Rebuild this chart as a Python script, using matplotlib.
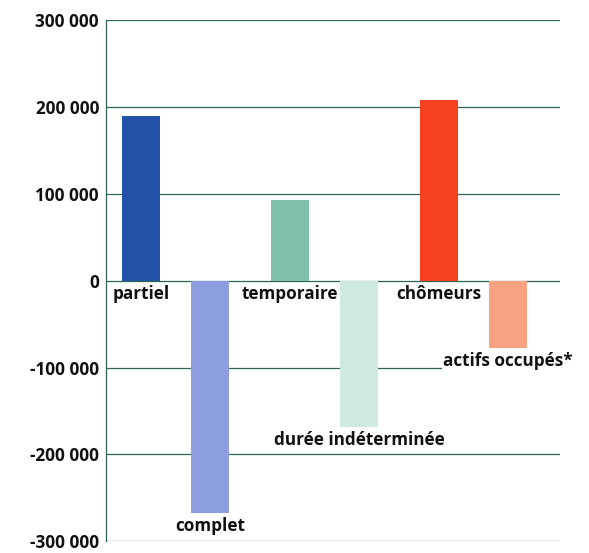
import matplotlib
matplotlib.use("Agg")
import matplotlib.pyplot as plt
from matplotlib.ticker import FuncFormatter

# variation by category, grouped in pairs
labels = ["partiel", "complet", "temporaire", "durée indéterminée", "chômeurs", "actifs occupés*"]
values = [190000, -267000, 93000, -168000, 208000, -77000]
colors = ["#2352a8", "#8c9de0", "#7fc0a9", "#cde9e2", "#f5411e", "#f9a282"]
yticks = [-300000, -200000, -100000, 0, 100000, 200000, 300000]

grid_color = "#2f6454"
font = "Open Sans"
fsize = 12.3

# two bars per group: left and right of the group centre
group = [i // 2 for i in range(len(values))]
side = [-1 if i % 2 == 0 else 1 for i in range(len(values))]
xpos = [g + s * 0.232 for g, s in zip(group, side)]

fig = plt.figure(figsize=(5.89, 5.53), dpi=100)
ax = fig.add_axes([0.18, 0.021, 0.771, 0.9428])

ax.set_ylim(-300000, 300000)
ax.set_xlim(-0.466, 2.58)
ax.set_yticks(yticks)
ax.yaxis.set_major_formatter(FuncFormatter(lambda v, p: "{:,}".format(int(v)).replace(",", " ")))
ax.set_xticks([])
ax.tick_params(axis="y", length=0, pad=5)
for lbl in ax.get_yticklabels():
    lbl.set_fontfamily(font)
    lbl.set_fontweight("bold")
    lbl.set_fontsize(fsize)
    lbl.set_color("#111111")

ax.grid(axis="y", color=grid_color, linewidth=0.9, zorder=0)
ax.set_axisbelow(True)
for name in ["top", "right", "bottom"]:
    ax.spines[name].set_visible(False)
ax.spines["left"].set_color(grid_color)
ax.spines["left"].set_linewidth(0.9)

ax.bar(xpos, values, width=0.255, color=colors, zorder=2)

# category names under each bar (or under the baseline for positive bars)
for x, v, name in zip(xpos, values, labels):
    y = min(v, 0)
    ax.annotate(name, (x, y), xytext=(0, -3), textcoords="offset points",
                ha="center", va="top", fontfamily=font, fontweight="bold",
                fontsize=fsize, color="#111111", zorder=3,
                bbox=dict(facecolor="white", edgecolor="none", pad=1))

fig.savefig("out.png", dpi=100)
